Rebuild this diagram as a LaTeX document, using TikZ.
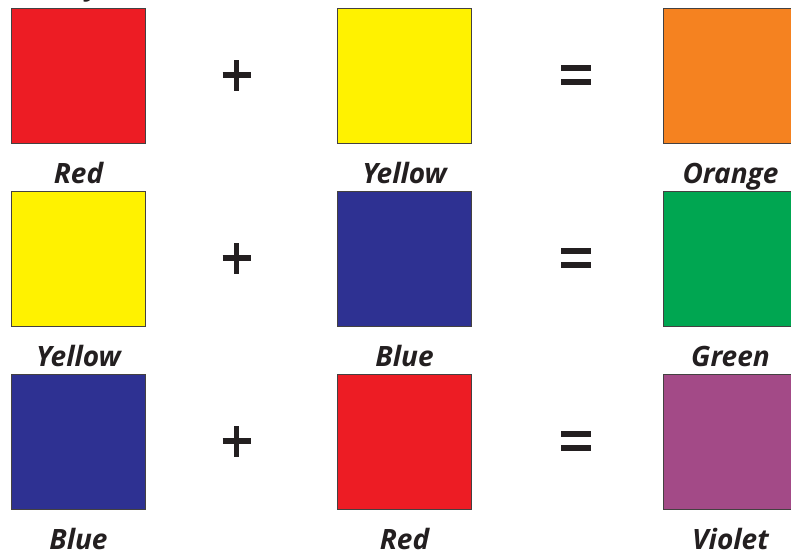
\documentclass[tikz,border=0pt]{standalone}
\usepackage{fontspec}
\setmainfont{Open Sans}
\definecolor{cred}{HTML}{ED1C24}
\definecolor{cyellow}{HTML}{FFF200}
\definecolor{corange}{HTML}{F58220}
\definecolor{cgreen}{HTML}{00A651}
\definecolor{cblue}{HTML}{2E3192}
\definecolor{cviolet}{HTML}{A34A87}
\definecolor{ink}{HTML}{231F20}
\tikzset{
  swatch/.style={draw=ink!85, line width=1pt, minimum width=134pt, minimum height=135pt, inner sep=0pt, anchor=north west},
  lbl/.style={font=\bfseries\itshape\fontsize{28}{30}\selectfont, text=ink, inner sep=0pt},
  sym/.style={draw=ink, line width=5.2pt},
  eqbar/.style={draw=ink, line width=6pt}
}
\begin{document}
\begin{tikzpicture}[x=1pt,y=-1pt]
\useasboundingbox (0,0) rectangle (791,551);
\clip (0,0) rectangle (791,551);
\node[lbl, anchor=base] (top) at (93,-4.5) {y};
\foreach \r/\a/\b/\c/\la/\lb/\lc [count=\i from 0] in {
  0/cred/cyellow/corange/Red/Yellow/Orange,
  1/cyellow/cblue/cgreen/Yellow/Blue/Green,
  2/cblue/cred/cviolet/Blue/Red/Violet}{
  \pgfmathsetmacro{\yy}{8+183*\r}
  \node[swatch, fill=\a] (a\i) at (11,\yy) {};
  \node[swatch, fill=\b] (b\i) at (337,\yy) {};
  \node[swatch, fill=\c] (c\i) at (663,\yy) {};
  \node[lbl, anchor=base] (la\i) at ([yshift=-39pt]a\i.south) {\la};
  \node[lbl, anchor=base] (lb\i) at ([yshift=-39pt]b\i.south) {\lb};
  \node[lbl, anchor=base] (lc\i) at ([yshift=-39pt]c\i.south) {\lc};
  \coordinate (p\i) at (236.5,\yy+67);
  \coordinate (e\i) at (576,\yy+67);
  \draw[sym] ([xshift=-14pt]p\i) -- ([xshift=14pt]p\i);
  \draw[sym] ([yshift=-15.5pt]p\i) -- ([yshift=15.5pt]p\i);
  \draw[eqbar] ([xshift=-15pt,yshift=-6.7pt]e\i) -- ([xshift=15pt,yshift=-6.7pt]e\i);
  \draw[eqbar] ([xshift=-15pt,yshift=6.7pt]e\i) -- ([xshift=15pt,yshift=6.7pt]e\i);
}
\end{tikzpicture}
\end{document}
